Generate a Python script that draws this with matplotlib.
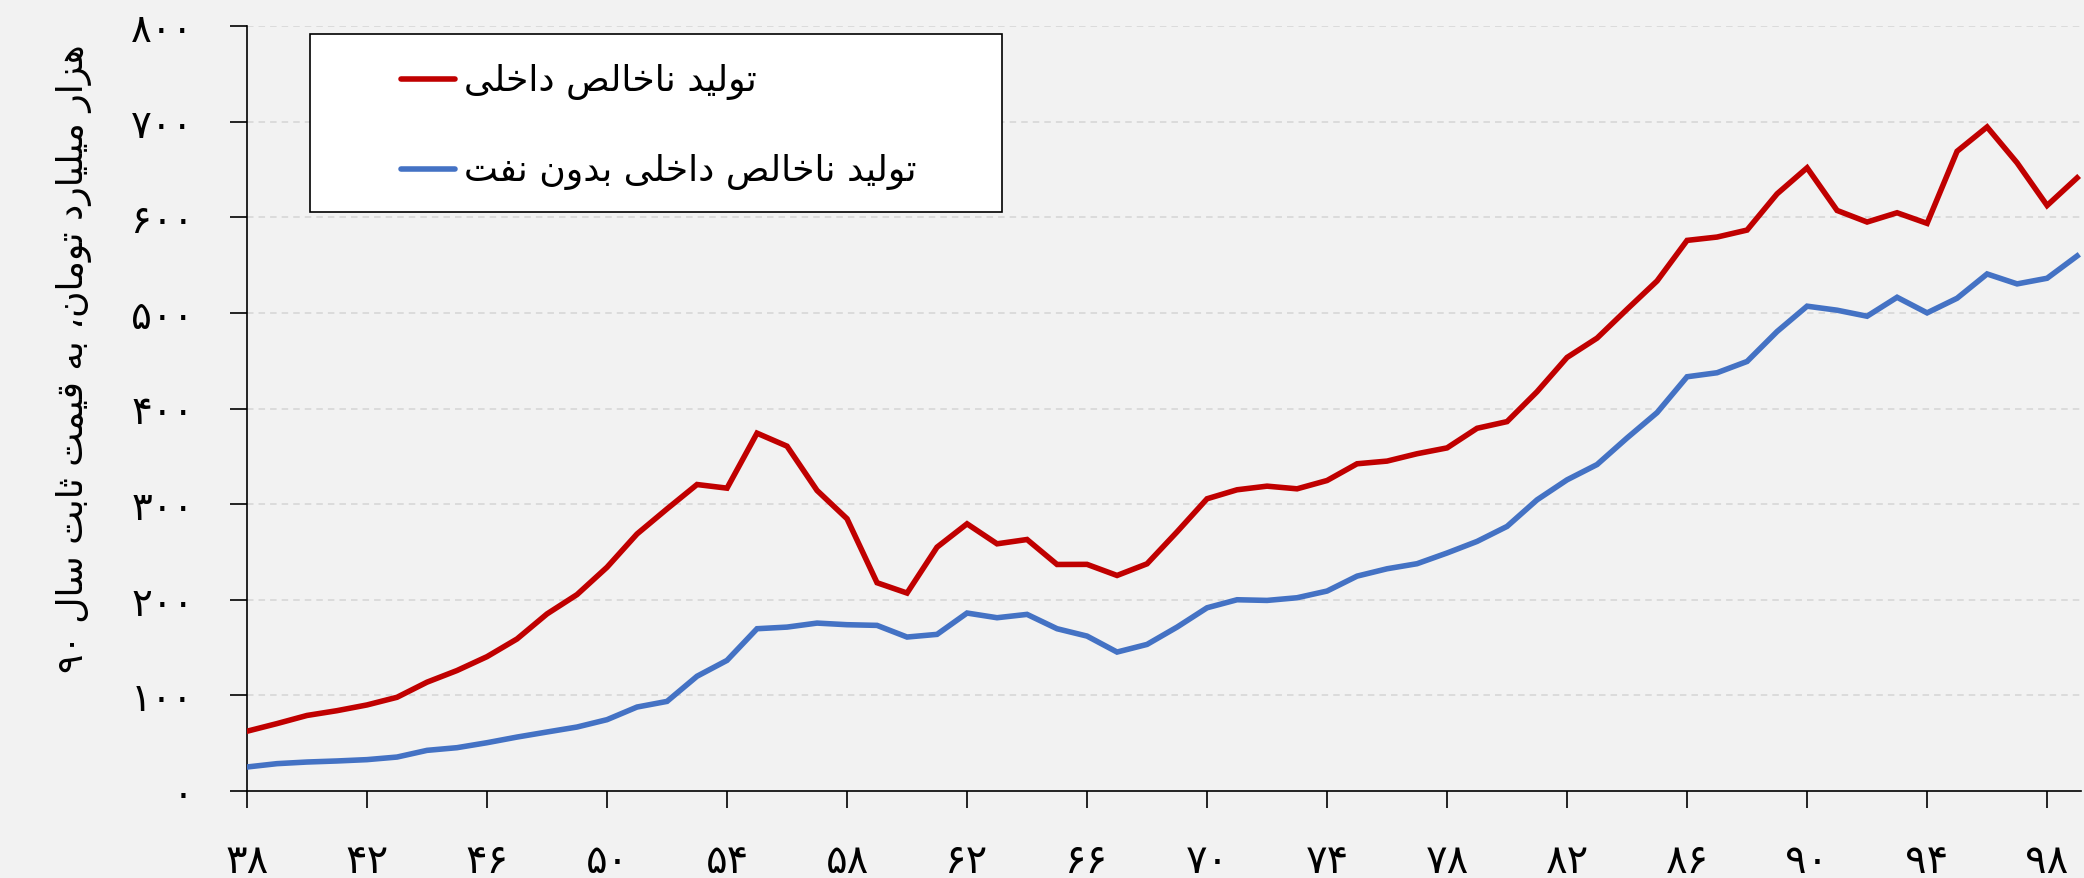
import re
import matplotlib
matplotlib.use("Agg")
import matplotlib.pyplot as plt
from matplotlib.patches import Rectangle

# Years (short Persian calendar years, 1338-1399)
years = list(range(38, 100))

# GDP, thousand billion toman at constant 1390 prices
gdp = [62.5, 70.5, 79, 84, 90, 98, 113.8, 126, 140.5, 159,
       185.2, 205.4, 234, 268.8, 295, 320.5, 316.7, 374.2, 360.6, 314.3,
       284.7, 217.8, 207, 255, 279.4, 258.5, 263, 236.9, 237, 225.4,
       237.6, 271, 305.6, 315, 318.8, 316, 324.7, 342.2, 345, 352.7,
       358.8, 379.3, 386.3, 417.6, 453.4, 473.6, 503.8, 533.4, 575.8, 579.3,
       586.6, 624.5, 651.7, 607.1, 595, 604.7, 593.6, 669, 694.4, 656.9,
       612.3, 641.2]

# Non-oil GDP
gdp_non_oil = [25.1, 28.6, 30.3, 31.4, 32.8, 35.5, 42.5, 45.3, 50.5, 56.4,
               61.7, 66.9, 74.6, 87.8, 93.7, 120, 136.6, 169.7, 171.4, 175.6,
               173.9, 173.2, 161, 163.8, 186.1, 181.2, 184.7, 169.7, 162, 145.3,
               153.3, 171.4, 191.6, 200, 199.3, 202.1, 209.1, 224.7, 232.4, 237.7,
               248.9, 261, 276.7, 304.5, 325.4, 341.4, 369.2, 395.7, 433.2, 437.4,
               449.2, 480.5, 507, 502.8, 496.5, 516.3, 500, 515.3, 540.7, 530.3,
               536.2, 559.5]

series_names = ["تولید ناخالص داخلی", "تولید ناخالص داخلی بدون نفت"]
y_label = "هزار میلیارد تومان، به قیمت ثابت سال ۹۰"
x_ticks = list(range(38, 99, 4))
y_ticks = list(range(0, 801, 100))

# ---- minimal Arabic-script shaping (contextual forms + RTL order) ----
FORMS = {  # isolated, final, initial, medial
    'ا': ('\uFE8D', '\uFE8E', None, None),
    'ب': ('\uFE8F', '\uFE90', '\uFE91', '\uFE92'),
    'ت': ('\uFE95', '\uFE96', '\uFE97', '\uFE98'),
    'ث': ('\uFE99', '\uFE9A', '\uFE9B', '\uFE9C'),
    'خ': ('\uFEA5', '\uFEA6', '\uFEA7', '\uFEA8'),
    'د': ('\uFEA9', '\uFEAA', None, None),
    'ر': ('\uFEAD', '\uFEAE', None, None),
    'ز': ('\uFEAF', '\uFEB0', None, None),
    'س': ('\uFEB1', '\uFEB2', '\uFEB3', '\uFEB4'),
    'ص': ('\uFEB9', '\uFEBA', '\uFEBB', '\uFEBC'),
    'ف': ('\uFED1', '\uFED2', '\uFED3', '\uFED4'),
    'ق': ('\uFED5', '\uFED6', '\uFED7', '\uFED8'),
    'ل': ('\uFEDD', '\uFEDE', '\uFEDF', '\uFEE0'),
    'م': ('\uFEE1', '\uFEE2', '\uFEE3', '\uFEE4'),
    'ن': ('\uFEE5', '\uFEE6', '\uFEE7', '\uFEE8'),
    'ه': ('\uFEE9', '\uFEEA', '\uFEEB', '\uFEEC'),
    'و': ('\uFEED', '\uFEEE', None, None),
    'ی': ('\uFBFC', '\uFBFD', '\uFBFE', '\uFBFF'),
}


def rtl(text):
    out = []
    n = len(text)
    for i, ch in enumerate(text):
        forms = FORMS.get(ch)
        if forms is None:
            out.append(ch)
            continue
        prev = text[i - 1] if i > 0 else None
        nxt = text[i + 1] if i < n - 1 else None
        join_prev = prev in FORMS and FORMS[prev][2] is not None
        join_next = forms[2] is not None and nxt in FORMS
        if join_prev and join_next:
            out.append(forms[3])
        elif join_prev:
            out.append(forms[1])
        elif join_next:
            out.append(forms[2])
        else:
            out.append(forms[0])
    visual = ''.join(out)[::-1]
    return re.sub('[۰-۹]+', lambda m: m.group(0)[::-1], visual)


FA_DIGITS = str.maketrans('0123456789', '۰۱۲۳۴۵۶۷۸۹')


def fa(num):
    return str(num).translate(FA_DIGITS)


plt.rcParams['font.family'] = ['DejaVu Sans']

W, H = 2084, 879
BG = '#F2F2F2'
RED = '#C00000'
BLUE = '#4472C4'

fig = plt.figure(figsize=(W / 100, H / 100), dpi=100, facecolor=BG)
ax = fig.add_axes([247 / W, 87 / H, (2081 - 247) / W, (792 - 27) / H])
ax.set_facecolor(BG)

ax.plot(years, gdp, color=RED, lw=4.0, solid_joinstyle='miter', zorder=3)
ax.plot(years, gdp_non_oil, color=BLUE, lw=4.0, solid_joinstyle='miter', zorder=3)

ax.set_xlim(38, 99.13)
ax.set_ylim(0, 800)

ax.set_xticks(x_ticks)
ax.set_xticklabels([fa(v) for v in x_ticks], fontsize=29)
ax.set_yticks(y_ticks)
ax.set_yticklabels([fa(v) for v in y_ticks], fontsize=28)
ax.tick_params(axis='both', direction='out', length=12.2, width=1.2, color='black')
ax.tick_params(axis='x', pad=24)
ax.tick_params(axis='y', pad=26)

for s in ('top', 'right'):
    ax.spines[s].set_visible(False)
for s in ('left', 'bottom'):
    ax.spines[s].set_linewidth(1.2)
    ax.spines[s].set_color('black')

for v in y_ticks[1:]:
    ax.axhline(v, color='#D9D9D9', lw=1.3, dashes=(3.6, 2.8), zorder=1)

fig.text(74 / W, 1 - 359 / H, rtl(y_label), rotation=90, ha='center', va='center',
         fontsize=26)

# legend box, drawn in figure pixels
fig.patches.append(Rectangle((310 / W, 1 - 213 / H), (1002 - 310) / W, (213 - 35) / H,
                             transform=fig.transFigure, facecolor='white',
                             edgecolor='black', lw=1.2, zorder=5))
for yp, col, name in [(80, RED, series_names[0]), (170, BLUE, series_names[1])]:
    fig.add_artist(plt.Line2D([401 / W, 455 / W], [1 - yp / H, 1 - yp / H],
                              transform=fig.transFigure, color=col, lw=4.0,
                              solid_capstyle='round', zorder=6))
    fig.text(464 / W, 1 - (yp + 2) / H, rtl(name), ha='left', va='center',
             fontsize=26, zorder=6)

fig.savefig('out.png', dpi=100, facecolor=BG)
